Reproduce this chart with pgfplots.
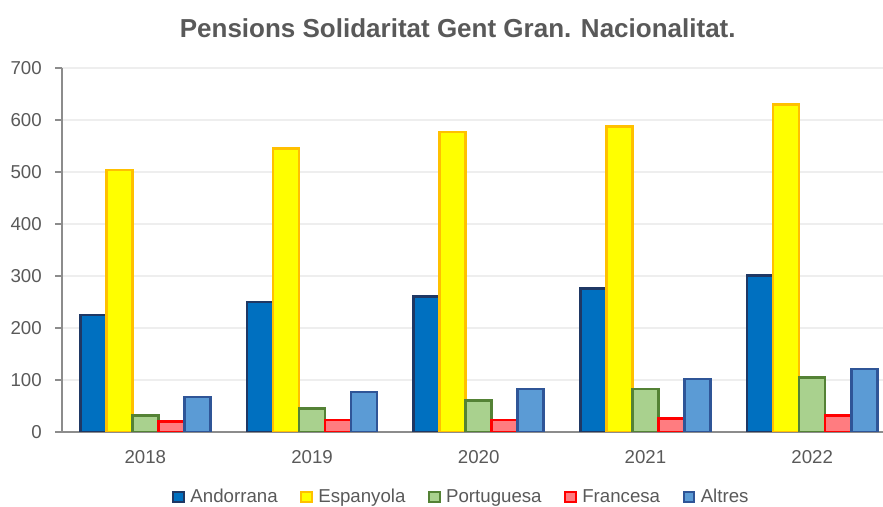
\documentclass[border=0pt]{standalone}
\usepackage{fontspec}
\setmainfont{Liberation Sans}
\usepackage{pgfplots}
\pgfplotsset{compat=1.18}
\definecolor{andF}{HTML}{0070C0}\definecolor{andE}{HTML}{1F3864}
\definecolor{espF}{HTML}{FFFF00}\definecolor{espE}{HTML}{FFC000}
\definecolor{porF}{HTML}{A9D18E}\definecolor{porE}{HTML}{548235}
\definecolor{fraF}{HTML}{FF7C80}\definecolor{fraE}{HTML}{FF0000}
\definecolor{altF}{HTML}{5B9BD5}\definecolor{altE}{HTML}{2F5597}
\definecolor{txt}{HTML}{595959}
\definecolor{axl}{HTML}{8C8C8C}
\definecolor{grd}{HTML}{EEEEEE}
\pgfplotsset{
  sqleg/.style={legend image code/.code={\draw[##1,line width=1.5pt] (0pt,-4pt) rectangle (8pt,4pt);}},
}
\begin{document}
\begin{tikzpicture}
\begin{axis}[
  scale only axis,
  width=615.75pt, height=273pt,
  xmin=-0.5, xmax=4.425,
  ymin=0, ymax=700,
  ytick={0,100,...,700},
  xtick={0,1,2,3,4},
  xticklabels={2018,2019,2020,2021,2022},
  major x tick style={draw=none},
  extra x ticks={-0.5,0.5,1.5,2.5,3.5},
  extra x tick labels={},
  extra x tick style={tick style={draw=axl,line width=0.8pt}, major tick length=5pt},
  axis x line*=bottom, axis y line*=left,
  axis line style={draw=axl,line width=0.8pt,-},
  ytick style={draw=axl,line width=0.8pt},
  major tick length=5pt,
  tick align=outside,
  ymajorgrids, grid style={draw=grd,line width=0.8pt},
  /pgf/number format/assume math mode=true,
  tick label style={font=\fontsize{14pt}{16pt}\selectfont, text=txt},
  yticklabel style={anchor=east, inner sep=0pt, xshift=-10pt},
  xticklabel style={anchor=north, inner sep=0pt, yshift=-9pt},
  title={Pensions Solidaritat Gent Gran. Nacionalitat.},
  title style={font=\fontsize{19.5pt}{22pt}\selectfont\bfseries, text=txt, at={(rel axis cs:0.482,1.088)}, anchor=center},
  legend style={at={(rel axis cs:0.487,-0.1786)}, anchor=center, draw=none, fill=none,
    font=\fontsize{14pt}{16pt}\selectfont, text=txt, legend columns=5,
    /tikz/every odd column/.append style={column sep=2pt},
    /tikz/every even column/.append style={column sep=15pt}},
  ybar=0pt, bar width=0.156,
]
\addplot[fill=andF, draw=andE, line width=2pt, bar shift=-0.312, sqleg] coordinates {(0,225) (1,250) (2,260) (3,276) (4,301)};
\addlegendentry{Andorrana}
\addplot[fill=espF, draw=espE, line width=2pt, bar shift=-0.156, sqleg] coordinates {(0,504) (1,545) (2,577) (3,587) (4,630)};
\addlegendentry{Espanyola}
\addplot[fill=porF, draw=porE, line width=2pt, bar shift=0, sqleg] coordinates {(0,32) (1,45) (2,60) (3,83) (4,105)};
\addlegendentry{Portuguesa}
\addplot[fill=fraF, draw=fraE, line width=2pt, bar shift=0.156, sqleg] coordinates {(0,20) (1,23) (2,23) (3,26) (4,32)};
\addlegendentry{Francesa}
\addplot[fill=altF, draw=altE, line width=2pt, bar shift=0.312, sqleg] coordinates {(0,67) (1,77) (2,83) (3,102) (4,121)};
\addlegendentry{Altres}
\end{axis}
\path (current axis.south west) ++(-46.5pt,-56.25pt) coordinate (bl);
\path (current axis.north east) ++(0pt,51pt) coordinate (tr);
\pgfresetboundingbox
\useasboundingbox (bl) rectangle (tr);
\end{tikzpicture}
\end{document}
